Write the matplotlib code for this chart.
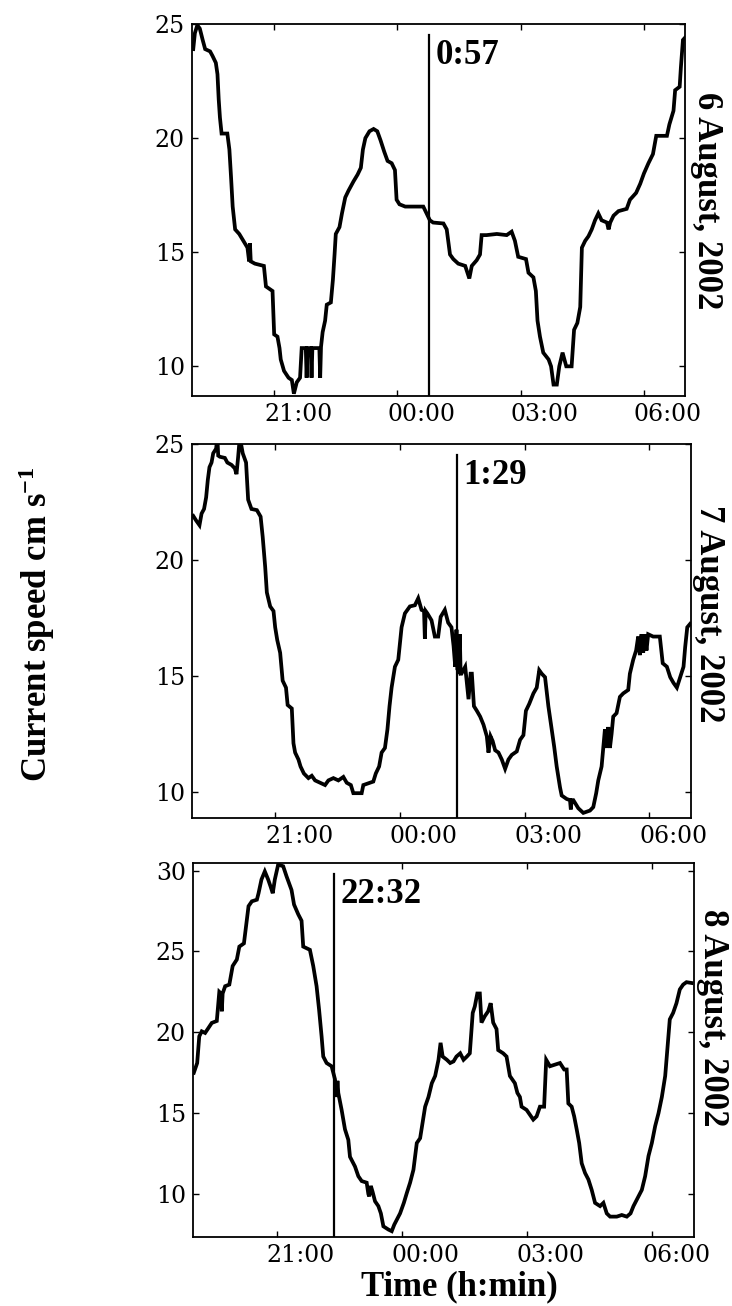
import numpy as np
import matplotlib
matplotlib.use("Agg")
import matplotlib.pyplot as plt
from matplotlib.transforms import ScaledTranslation

# ---------------- data (hours relative to midnight, current speed cm/s) ----------------
aug6 = [(-4.97, 23.9), (-4.93, 24.6), (-4.87, 24.95), (-4.81, 24.8), (-4.74, 24.3), (-4.68, 23.9),
        (-4.56, 23.8), (-4.50, 23.6), (-4.42, 23.3), (-4.38, 22.8), (-4.35, 21.7), (-4.32, 20.9),
        (-4.28, 20.2), (-4.14, 20.2), (-4.09, 19.5), (-4.05, 18.3), (-4.01, 17.0), (-3.95, 16.0),
        (-3.85, 15.8), (-3.75, 15.5), (-3.65, 15.2), (-3.61, 14.6), (-3.59, 15.4), (-3.57, 14.6),
        (-3.47, 14.5), (-3.25, 14.4), (-3.20, 13.5), (-3.04, 13.3), (-3.00, 11.4), (-2.92, 11.3),
        (-2.87, 10.8), (-2.84, 10.3), (-2.76, 9.8), (-2.65, 9.5), (-2.57, 9.4), (-2.52, 8.8),
        (-2.45, 9.3), (-2.37, 9.5), (-2.33, 10.8), (-2.23, 10.8), (-2.21, 9.5), (-2.19, 10.8),
        (-2.11, 10.8), (-2.09, 9.5), (-2.07, 10.8), (-1.90, 10.8), (-1.88, 9.5), (-1.86, 10.85),
        (-1.82, 11.5), (-1.76, 12.0), (-1.72, 12.7), (-1.62, 12.8), (-1.57, 13.8), (-1.53, 14.9),
        (-1.50, 15.8), (-1.41, 16.1), (-1.35, 16.7), (-1.27, 17.4), (-1.19, 17.7), (-1.07, 18.1),
        (-0.97, 18.4), (-0.89, 18.7), (-0.84, 19.5), (-0.78, 20.0), (-0.68, 20.3), (-0.58, 20.4),
        (-0.49, 20.3), (-0.41, 19.9), (-0.32, 19.4), (-0.24, 19.0), (-0.14, 18.9), (-0.06, 18.6),
        (-0.02, 17.3), (0.05, 17.1), (0.19, 17.0), (0.31, 17.0), (0.63, 17.0), (0.71, 16.7),
        (0.79, 16.4), (0.87, 16.3), (1.12, 16.26), (1.20, 16.0), (1.28, 14.9), (1.36, 14.7),
        (1.48, 14.5), (1.65, 14.4), (1.75, 13.85), (1.81, 14.4), (1.93, 14.65), (2.01, 14.9),
        (2.05, 15.75), (2.17, 15.75), (2.42, 15.8), (2.66, 15.75), (2.78, 15.9), (2.86, 15.5),
        (2.94, 14.8), (3.13, 14.7), (3.19, 14.1), (3.31, 13.9), (3.37, 13.3), (3.41, 12.0),
        (3.47, 11.3), (3.55, 10.6), (3.68, 10.3), (3.74, 10.0), (3.80, 9.2), (3.88, 9.2),
        (3.94, 10.0), (4.02, 10.6), (4.11, 10.0), (4.24, 10.0), (4.30, 11.6), (4.38, 11.9),
        (4.45, 12.6), (4.49, 15.2), (4.57, 15.5), (4.65, 15.7), (4.73, 16.0), (4.81, 16.4),
        (4.89, 16.7), (4.97, 16.4), (5.10, 16.3), (5.14, 16.0), (5.18, 16.3), (5.26, 16.6),
        (5.38, 16.8), (5.58, 16.9), (5.66, 17.3), (5.81, 17.6), (5.91, 18.0), (6.00, 18.45),
        (6.11, 18.9), (6.22, 19.3), (6.30, 20.1), (6.56, 20.1), (6.62, 20.6), (6.72, 21.2),
        (6.76, 22.1), (6.87, 22.25), (6.90, 23.1), (6.95, 24.3), (7.0, 24.4)]

aug7 = [(-4.97, 21.9), (-4.90, 21.7), (-4.82, 21.5), (-4.77, 22.0), (-4.71, 22.2), (-4.66, 22.7),
        (-4.62, 23.45), (-4.58, 24.0), (-4.53, 24.2), (-4.49, 24.6), (-4.42, 24.8), (-4.39, 25.3),
        (-4.37, 24.5), (-4.33, 24.45), (-4.21, 24.4), (-4.15, 24.2), (-4.05, 24.1), (-3.97, 23.95),
        (-3.93, 23.7), (-3.89, 24.45), (-3.85, 25.3), (-3.78, 24.6), (-3.70, 24.2), (-3.65, 22.6),
        (-3.57, 22.2), (-3.44, 22.15), (-3.35, 21.87), (-3.30, 21.0), (-3.24, 19.7), (-3.20, 18.6),
        (-3.12, 18.0), (-3.04, 17.8), (-3.00, 17.1), (-2.95, 16.55), (-2.88, 16.0), (-2.82, 14.8),
        (-2.74, 14.5), (-2.70, 13.75), (-2.60, 13.6), (-2.56, 12.1), (-2.52, 11.7), (-2.44, 11.4),
        (-2.39, 11.1), (-2.31, 10.8), (-2.20, 10.6), (-2.12, 10.7), (-2.04, 10.5), (-1.92, 10.4),
        (-1.80, 10.3), (-1.72, 10.5), (-1.60, 10.6), (-1.48, 10.5), (-1.36, 10.65), (-1.28, 10.4),
        (-1.18, 10.3), (-1.12, 9.95), (-0.92, 9.95), (-0.88, 10.3), (-0.72, 10.4), (-0.64, 10.45),
        (-0.58, 10.8), (-0.50, 11.1), (-0.44, 11.7), (-0.36, 11.9), (-0.30, 12.7), (-0.25, 13.7),
        (-0.20, 14.5), (-0.12, 15.4), (-0.04, 15.7), (0.00, 16.4), (0.04, 17.1), (0.12, 17.7),
        (0.24, 18.0), (0.36, 18.05), (0.44, 18.35), (0.52, 17.85), (0.58, 17.8), (0.60, 16.6),
        (0.62, 17.8), (0.66, 17.7), (0.76, 17.4), (0.84, 16.7), (0.92, 16.7), (0.98, 17.55),
        (1.08, 17.85), (1.16, 17.3), (1.24, 17.1), (1.29, 16.3), (1.33, 15.4), (1.36, 17.0),
        (1.38, 15.3), (1.40, 15.25), (1.44, 16.8), (1.46, 15.1), (1.48, 15.1), (1.57, 15.4),
        (1.65, 14.0), (1.70, 15.1), (1.73, 15.1), (1.78, 13.7), (1.85, 13.5), (1.93, 13.25),
        (2.01, 12.9), (2.09, 12.4), (2.13, 11.7), (2.18, 12.4), (2.23, 12.2), (2.29, 11.8),
        (2.37, 11.7), (2.45, 11.4), (2.53, 11.0), (2.61, 11.4), (2.69, 11.6), (2.81, 11.75),
        (2.89, 12.25), (2.97, 12.45), (3.03, 13.5), (3.11, 13.8), (3.21, 14.25), (3.29, 14.5),
        (3.35, 15.25), (3.41, 15.1), (3.49, 14.95), (3.57, 13.7), (3.65, 12.7), (3.71, 11.95),
        (3.77, 11.1), (3.85, 10.2), (3.89, 9.85), (4.01, 9.7), (4.09, 9.65), (4.11, 9.25),
        (4.13, 9.65), (4.17, 9.65), (4.29, 9.3), (4.41, 9.1), (4.57, 9.2), (4.65, 9.35),
        (4.72, 9.95), (4.77, 10.5), (4.85, 11.1), (4.93, 12.7), (4.97, 11.9), (5.01, 12.8),
        (5.05, 11.9), (5.09, 12.5), (5.13, 13.25), (5.21, 13.4), (5.29, 14.1), (5.37, 14.25),
        (5.49, 14.4), (5.53, 15.1), (5.61, 15.7), (5.68, 16.1), (5.73, 16.7), (5.77, 15.9),
        (5.81, 16.8), (5.85, 16.0), (5.89, 16.8), (5.93, 16.1), (5.97, 16.8), (6.09, 16.7),
        (6.25, 16.7), (6.32, 15.55), (6.42, 15.4), (6.50, 14.95), (6.58, 14.7), (6.66, 14.5),
        (6.74, 14.95), (6.82, 15.4), (6.86, 16.25), (6.91, 17.1), (6.98, 17.25)]

aug8 = [(-4.98, 17.5), (-4.90, 18.1), (-4.85, 19.75), (-4.79, 20.06), (-4.71, 19.96), (-4.63, 20.27),
        (-4.55, 20.58), (-4.43, 20.7), (-4.37, 22.5), (-4.33, 22.4), (-4.31, 21.3), (-4.29, 22.4),
        (-4.23, 22.85), (-4.13, 22.95), (-4.05, 24.1), (-3.95, 24.5), (-3.89, 25.3), (-3.78, 25.5),
        (-3.73, 26.55), (-3.67, 27.8), (-3.59, 28.1), (-3.47, 28.2), (-3.43, 28.6), (-3.36, 29.45),
        (-3.28, 29.95), (-3.20, 29.45), (-3.14, 29.0), (-3.09, 28.6), (-3.04, 29.45), (-2.96, 30.37),
        (-2.84, 30.27), (-2.76, 29.65), (-2.64, 28.8), (-2.58, 27.9), (-2.48, 27.3), (-2.40, 26.9),
        (-2.36, 25.3), (-2.20, 25.1), (-2.12, 24.1), (-2.04, 22.85), (-1.98, 21.4), (-1.92, 19.75),
        (-1.88, 18.5), (-1.80, 18.1), (-1.68, 17.9), (-1.60, 17.1), (-1.56, 16.0), (-1.54, 17.0),
        (-1.52, 16.25), (-1.44, 15.2), (-1.36, 14.0), (-1.28, 13.35), (-1.24, 12.3), (-1.12, 11.7),
        (-1.04, 11.1), (-0.96, 10.8), (-0.84, 10.7), (-0.80, 10.0), (-0.78, 9.85), (-0.74, 10.5),
        (-0.70, 10.15), (-0.64, 9.55), (-0.56, 9.25), (-0.50, 8.8), (-0.44, 8.0), (-0.32, 7.8),
        (-0.24, 7.7), (-0.18, 8.1), (-0.12, 8.4), (-0.04, 8.8), (0.05, 9.45), (0.12, 10.05),
        (0.20, 10.7), (0.28, 11.5), (0.36, 13.15), (0.44, 13.45), (0.56, 15.4), (0.64, 16.0),
        (0.72, 16.85), (0.80, 17.3), (0.88, 18.3), (0.93, 19.35), (0.98, 18.5), (1.08, 18.3),
        (1.16, 18.1), (1.24, 18.2), (1.31, 18.5), (1.40, 18.7), (1.48, 18.3), (1.56, 18.5),
        (1.63, 18.7), (1.70, 21.2), (1.75, 21.6), (1.81, 22.4), (1.87, 22.4), (1.91, 20.6),
        (1.99, 21.0), (2.07, 21.3), (2.13, 21.8), (2.19, 20.6), (2.27, 20.2), (2.31, 18.9),
        (2.43, 18.7), (2.51, 18.5), (2.59, 17.3), (2.71, 16.85), (2.77, 16.25), (2.83, 16.0),
        (2.87, 15.4), (2.99, 15.2), (3.07, 14.9), (3.15, 14.6), (3.23, 14.8), (3.31, 15.4),
        (3.41, 15.4), (3.46, 18.3), (3.55, 17.9), (3.67, 18.0), (3.79, 18.1), (3.89, 17.7),
        (3.95, 17.7), (3.99, 15.6), (4.07, 15.4), (4.13, 14.8), (4.19, 14.0), (4.25, 13.15),
        (4.31, 11.9), (4.39, 11.3), (4.47, 10.9), (4.55, 10.25), (4.63, 9.45), (4.75, 9.25),
        (4.83, 9.45), (4.91, 8.8), (4.99, 8.6), (5.15, 8.6), (5.27, 8.7), (5.39, 8.6),
        (5.48, 8.8), (5.55, 9.25), (5.67, 9.85), (5.75, 10.25), (5.83, 11.1), (5.91, 12.35),
        (5.99, 13.15), (6.07, 14.2), (6.15, 15.0), (6.23, 16.0), (6.31, 17.3), (6.36, 18.9),
        (6.42, 20.8), (6.50, 21.2), (6.58, 21.8), (6.66, 22.65), (6.74, 22.95), (6.82, 23.1),
        (6.94, 23.05)]

dates = ["6 August, 2002", "7 August, 2002", "8 August, 2002"]
event_labels = ["0:57", "1:29", "22:32"]
event_x = [0.78, 1.38, -1.62]          # drawn positions of the vertical event lines (h)
x_ticks = [-3, 0, 3, 6]
x_ticklabels = ["21:00", "00:00", "03:00", "06:00"]
y_ticks = [[10, 15, 20, 25], [10, 15, 20, 25], [10, 15, 20, 25, 30]]
y_limits = [(8.7, 25.0), (8.88, 25.0), (7.34, 30.47)]
x_limits = (-5.0, 7.0)

# ---------------- layout ----------------
W, H = 732, 1306
plt.rcParams['font.family'] = ['DejaVu Serif']
plt.rcParams['mathtext.fontset'] = 'custom'
plt.rcParams['mathtext.rm'] = 'Liberation Serif:bold'
plt.rcParams['mathtext.bf'] = 'Liberation Serif:bold'
plt.rcParams['mathtext.default'] = 'bf'

fig = plt.figure(figsize=(W / 100, H / 100), dpi=100)
fig.patch.set_facecolor('white')

# axes boxes in pixels: left, top, right, bottom
boxes = [(192, 24, 685, 396), (192, 444, 691, 818), (193, 863, 694, 1237)]
date_pos = [(707, 201), (708, 614), (713, 1018)]
bold = dict(family='Liberation Serif', fontweight='bold', fontsize=25, color='black')

for i, data in enumerate([aug6, aug7, aug8]):
    l, t, r, b = boxes[i]
    ax = fig.add_axes([l / W, 1 - b / H, (r - l) / W, (b - t) / H])
    arr = np.array(data)
    ax.plot(arr[:, 0], arr[:, 1], color='black', lw=2.7, solid_joinstyle='miter')
    ax.set_xlim(*x_limits)
    ax.set_ylim(*y_limits[i])
    ax.set_xticks(x_ticks)
    ax.set_xticklabels(x_ticklabels)
    ax.set_yticks(y_ticks[i])
    ax.tick_params(direction='in', length=4, width=1.0, top=True, right=True,
                   labelsize=17, colors='black')
    ax.tick_params(axis='x', pad=5)
    ax.tick_params(axis='y', pad=5)
    for sp in ax.spines.values():
        sp.set_linewidth(1.3)
    # labels sit to the right of their ticks in the original
    off = ScaledTranslation(24 / 100, 0, fig.dpi_scale_trans)
    for lbl in ax.get_xticklabels():
        lbl.set_transform(lbl.get_transform() + off)
    # event line
    ax.axvline(event_x[i], ymin=0, ymax=1 - 11 / (b - t), color='black', lw=1.6)
    ax.annotate(event_labels[i], xy=(event_x[i], 1), xycoords=('data', 'axes fraction'),
                xytext=(4.5, -29), textcoords='offset points', ha='left', va='baseline', **bold)
    dx, dy = date_pos[i]
    fig.text(dx / W, 1 - dy / H, dates[i], rotation=-90, ha='center', va='center', **bold)

fig.text(37 / W, 1 - 624 / H, 'Current speed cm s$^{-1}$', rotation=90,
         ha='center', va='center', **bold)
fig.text(459 / W, 1 - 1295 / H, 'Time (h:min)', ha='center', va='baseline', **bold)

fig.savefig('out.png', dpi=100)
